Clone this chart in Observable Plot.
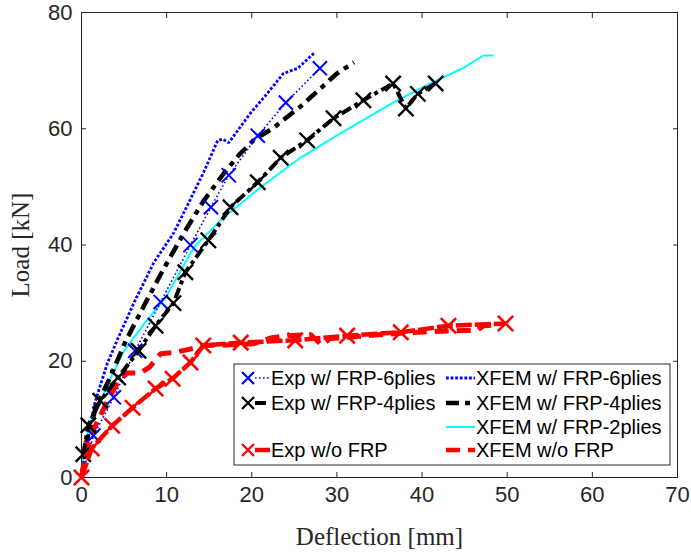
<!DOCTYPE html>
<html>
<head>
<meta charset="utf-8">
<script src="https://cdn.jsdelivr.net/npm/d3@7"></script>
<script src="https://cdn.jsdelivr.net/npm/@observablehq/plot@0.6"></script>
<style>
  html, body { margin: 0; padding: 0; background: white; }
  #chart { position: relative; width: 691px; height: 556px; }
</style>
</head>
<body>
<div id="chart"></div>
<script>
// Tick values
const xTicks = [0, 10, 20, 30, 40, 50, 60, 70];
const yTicks = [0, 20, 40, 60, 80];

// Exp w/ FRP-6plies
const exp6X = [0, 1.4, 3.8, 6.3, 9.3, 12.8, 15.2, 17.3, 20.7, 24.0, 28.0];
const exp6Y = [0, 7.2, 13.8, 21.8, 30.2, 40.0, 46.5, 52.0, 58.8, 64.5, 70.4];

// XFEM w/ FRP-6plies
const xfem6X = [0, 0.5, 1.6, 3.0, 4.3, 6.3, 8.5, 10.8, 12.5, 14.5, 16.0, 16.6, 17.3, 18.5, 19.9, 21.5, 23.7, 25.4, 27.3];
const xfem6Y = [0, 5.0, 13.0, 19.5, 24.0, 30.5, 37.0, 42.0, 47.0, 53.0, 58.0, 58.2, 57.6, 60.0, 62.8, 65.5, 69.5, 70.4, 73.0];

// Exp w/ FRP-4plies
const exp4X = [0.2, 0.8, 2.2, 4.3, 6.7, 8.7, 10.8, 12.2, 14.9, 17.5, 20.7, 23.4, 26.5, 29.6, 33.1, 36.6, 38.1, 39.5, 41.6];
const exp4Y = [4.0, 9.0, 13.2, 17.2, 21.8, 26.1, 30.0, 35.3, 40.8, 46.5, 50.8, 55.0, 58.0, 61.8, 64.9, 67.8, 63.5, 66.0, 67.8];

// XFEM w/ FRP-4plies
const xfem4X = [0, 0.8, 1.8, 3.2, 5.2, 7.5, 9.5, 12.0, 14.3, 16.7, 18.5, 20.2, 22.6, 25.7, 28.5, 30.0, 32.0];
const xfem4Y = [0, 7.6, 12.5, 16.7, 23.5, 30.0, 35.5, 42.0, 47.5, 52.3, 55.5, 58.0, 60.2, 63.8, 67.5, 69.5, 71.4];

// XFEM w/ FRP-2plies
const xfem2X = [0, 0.4, 1.2, 2.5, 3.7, 5.0, 7.4, 9.9, 13.2, 16.3, 21.0, 25.7, 30.4, 36.6, 41.0, 44.9, 47.2, 48.4];
const xfem2Y = [0, 6.0, 10.0, 14.0, 18.0, 21.8, 26.5, 31.0, 39.6, 44.2, 49.9, 55.0, 59.2, 64.5, 67.8, 70.5, 72.6, 72.6];

// Exp w/o FRP
const exp0X = [0, 1.2, 3.6, 6.0, 8.7, 10.7, 12.8, 14.3, 18.7, 25.1, 31.2, 37.5, 43.1, 49.8];
const exp0Y = [0, 5.0, 8.9, 12.0, 15.3, 17.0, 19.8, 22.7, 23.2, 23.6, 24.4, 25.0, 26.1, 26.5];

// XFEM w/o FRP
const xfem0X = [0, 0.5, 1.5, 3.0, 4.3, 5.4, 6.9, 8.0, 9.3, 10.8, 12.5, 14.3, 17.0, 20.2, 22.2, 24.3, 26.9, 28.2, 29.2, 33.6, 39.5, 44.9, 46.5, 47.2, 48.9];
const xfem0Y = [0, 4.0, 8.5, 13.0, 16.5, 18.0, 18.0, 19.0, 21.3, 21.5, 22.0, 22.7, 22.8, 23.0, 24.0, 24.4, 24.6, 22.8, 23.9, 24.4, 25.0, 25.3, 25.3, 26.1, 26.3];

const pts = (xs, ys) => xs.map((x, i) => ({x, y: ys[i]}));

// styles
const S = {
  exp6:  {stroke: "#0000ff", strokeWidth: 1.6, strokeDasharray: "1.6,2.4"},
  xfem6: {stroke: "#0000ff", strokeWidth: 2.8, strokeDasharray: "2.8,1.8"},
  exp4:  {stroke: "#000000", strokeWidth: 4, strokeDasharray: "11,4,4,4"},
  xfem4: {stroke: "#000000", strokeWidth: 4.5, strokeDasharray: "13,6,5,6"},
  xfem2: {stroke: "#00ffff", strokeWidth: 2},
  exp0:  {stroke: "#ff0000", strokeWidth: 4.5, strokeDasharray: "16,3"},
  xfem0: {stroke: "#ff0000", strokeWidth: 5, strokeDasharray: "14,8"}
};
const lineOpts = {x: "x", y: "y", strokeLinecap: "butt", strokeLinejoin: "miter"};

const tickFont = "'Liberation Sans', Arial, Helvetica, sans-serif";
const labelFont = "'Liberation Serif', 'Times New Roman', serif";

const plot = Plot.plot({
  width: 691,
  height: 556,
  marginLeft: 81,
  marginRight: 14,
  marginTop: 12,
  marginBottom: 79,
  x: {domain: [0, 70]},
  y: {domain: [0, 80]},
  style: {background: "white", color: "#262626", fontFamily: tickFont},
  marks: [
    // inward ticks on all sides
    Plot.axisX({ticks: xTicks, tickSize: 5, dy: -5, tickFormat: () => "", label: null, stroke: "#262626"}),
    Plot.axisX({anchor: "top", ticks: xTicks, tickSize: 5, dy: 5, tickFormat: () => "", label: null, stroke: "#262626"}),
    Plot.axisY({ticks: yTicks, tickSize: 5, dx: 5, tickFormat: () => "", label: null, stroke: "#262626"}),
    Plot.axisY({anchor: "right", ticks: yTicks, tickSize: 5, dx: -5, tickFormat: () => "", label: null, stroke: "#262626"}),
    // tick labels
    Plot.axisX({ticks: xTicks, tickSize: 0, tickPadding: 9, fontSize: 22, label: null, fill: "#262626"}),
    Plot.axisY({ticks: yTicks, tickSize: 0, tickPadding: 9, fontSize: 22, label: null, fill: "#262626"}),
    Plot.frame({stroke: "#262626", strokeWidth: 1}),
    // axis titles
    Plot.text(["Deflection [mm]"], {frameAnchor: "bottom", dy: 67, fontSize: 25, fontFamily: labelFont, fill: "#262626", textAnchor: "middle"}),
    Plot.text(["Load [kN]"], {frameAnchor: "left", dx: -61, rotate: -90, fontSize: 25, fontFamily: labelFont, fill: "#262626", textAnchor: "middle"}),
    // XFEM curves
    Plot.line(pts(xfem2X, xfem2Y), {...lineOpts, ...S.xfem2}),
    Plot.line(pts(xfem6X, xfem6Y), {...lineOpts, ...S.xfem6}),
    Plot.line(pts(xfem4X, xfem4Y), {...lineOpts, ...S.xfem4}),
    Plot.line(pts(xfem0X, xfem0Y), {...lineOpts, ...S.xfem0}),
    // Experimental curves
    Plot.line(pts(exp6X, exp6Y), {...lineOpts, ...S.exp6}),
    Plot.dot(pts(exp6X, exp6Y), {x: "x", y: "y", symbol: "times", r: 6.5, stroke: "#0000ff", strokeWidth: 2}),
    Plot.line(pts(exp4X, exp4Y), {...lineOpts, ...S.exp4}),
    Plot.dot(pts(exp4X, exp4Y), {x: "x", y: "y", symbol: "times", r: 7, stroke: "#000000", strokeWidth: 2.4}),
    Plot.line(pts(exp0X, exp0Y), {...lineOpts, ...S.exp0}),
    Plot.dot(pts(exp0X, exp0Y), {x: "x", y: "y", symbol: "times", r: 7, stroke: "#ff0000", strokeWidth: 2.6})
  ]
});

document.getElementById("chart").appendChild(plot);

// Legend (drawn on top of the plot SVG)
const legendItems = [
  {label: "Exp w/ FRP-6plies", style: S.exp6, marker: "#0000ff", col: 0, row: 0},
  {label: "XFEM w/ FRP-6plies", style: S.xfem6, marker: null, col: 1, row: 0},
  {label: "Exp w/ FRP-4plies", style: S.exp4, marker: "#000000", col: 0, row: 1},
  {label: "XFEM w/ FRP-4plies", style: S.xfem4, marker: null, col: 1, row: 1},
  {label: "XFEM w/ FRP-2plies", style: S.xfem2, marker: null, col: 1, row: 2},
  {label: "Exp w/o FRP", style: S.exp0, marker: "#ff0000", col: 0, row: 3},
  {label: "XFEM w/o FRP", style: S.xfem0, marker: null, col: 1, row: 3}
];

const svg = d3.select(plot);
const lg = svg.append("g").attr("transform", "translate(234,364)");
lg.append("rect").attr("width", 436).attr("height", 101)
  .attr("fill", "white").attr("stroke", "#262626").attr("stroke-width", 1);
const colX = [3, 208];
const rowY = [14, 39, 63, 86];
legendItems.forEach(it => {
  const g = lg.append("g").attr("transform", `translate(${colX[it.col]},${rowY[it.row]})`);
  const x0 = it.marker ? 18 : 4;
  g.append("line").attr("x1", x0).attr("x2", 33).attr("y1", 0).attr("y2", 0)
    .attr("stroke", it.style.stroke)
    .attr("stroke-width", Math.min(it.style.strokeWidth, 4.5))
    .attr("stroke-linecap", "butt")
    .attr("stroke-dasharray", it.style.strokeDasharray || null);
  if (it.marker) {
    const s = 6;
    g.append("path").attr("d", `M${11 - s},${-s}L${11 + s},${s}M${11 - s},${s}L${11 + s},${-s}`)
      .attr("stroke", it.marker).attr("stroke-width", 2.2).attr("fill", "none");
  }
  g.append("text").attr("x", 34).attr("y", 0).attr("dy", "0.36em")
    .attr("text-anchor", "start")
    .attr("font-family", tickFont).attr("font-size", 20).attr("fill", "#000")
    .text(it.label);
});
</script>
</body>
</html>
